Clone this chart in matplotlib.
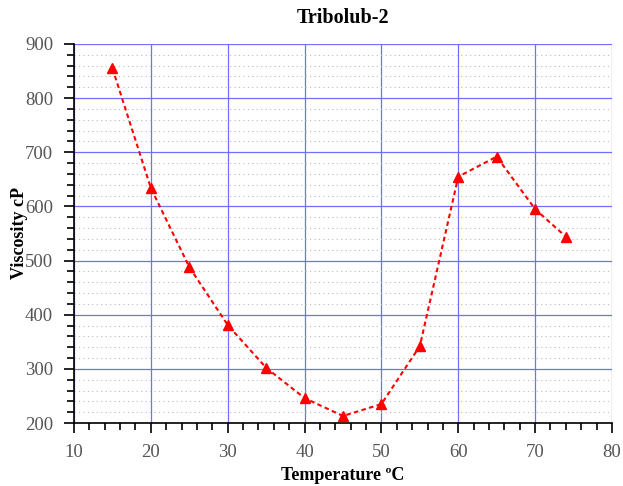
import matplotlib
matplotlib.use("Agg")
import matplotlib.pyplot as plt
from matplotlib.ticker import MultipleLocator

temperature = [15, 20, 25, 30, 35, 40, 45, 50, 55, 60, 65, 70, 74]
viscosity = [855, 634, 488, 381, 302, 246, 213, 235, 342, 655, 692, 595, 544]

plt.rcParams['font.family'] = ['Liberation Serif', 'DejaVu Serif']

fig = plt.figure(figsize=(6.23, 4.86), dpi=100)
ax = fig.add_axes([0.1188, 0.1296, 0.8635, 0.7799])

ax.plot(temperature, viscosity, color='#ff0000', linestyle=(0, (2.2, 1.6)),
        linewidth=1.5, marker='^', markersize=6.5, zorder=3)

ax.set_xlim(10, 80)
ax.set_ylim(200, 900)
ax.xaxis.set_major_locator(MultipleLocator(10))
ax.xaxis.set_minor_locator(MultipleLocator(2))
ax.yaxis.set_major_locator(MultipleLocator(100))
ax.yaxis.set_minor_locator(MultipleLocator(20))

ax.grid(which='major', color='#7070ff', linewidth=0.9)
ax.grid(which='minor', axis='y', color='#bbbbbb', linestyle=(0, (1, 3)), linewidth=0.8)
ax.set_axisbelow(True)

for side in ('top', 'right'):
    ax.spines[side].set_visible(False)
for side in ('left', 'bottom'):
    ax.spines[side].set_color('black')
    ax.spines[side].set_linewidth(1.2)

ax.tick_params(which='major', direction='out', length=7, width=1.2, colors='black',
               labelcolor='#555555', labelsize=13.5, pad=8)
ax.tick_params(which='minor', direction='out', length=5, width=1.2, colors='black')

ax.set_title('Tribolub-2', fontsize=14.5, fontweight='bold', pad=15)
ax.set_xlabel('Temperature ºC', fontsize=13, fontweight='bold')
ax.set_ylabel('Viscosity cP', fontsize=13, fontweight='bold')
ax.xaxis.set_label_coords(0.5, -0.115)
ax.yaxis.set_label_coords(-0.086, 0.5)

fig.savefig('out.png', dpi=100)
